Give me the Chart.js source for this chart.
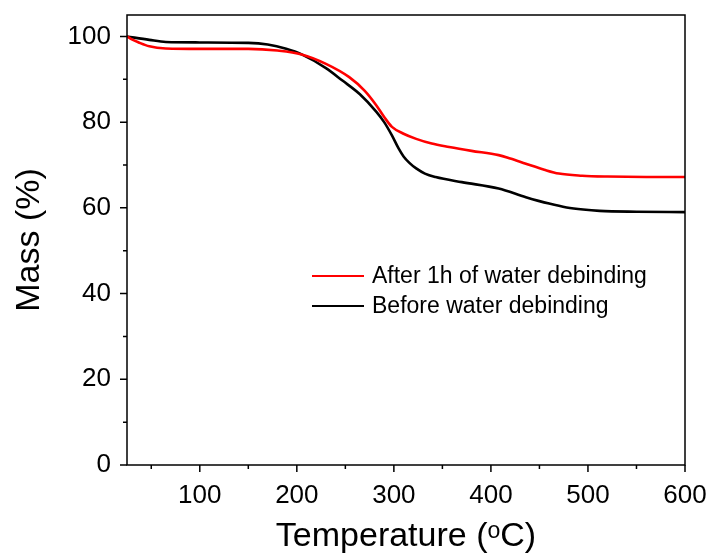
<!DOCTYPE html>
<html><head><meta charset="utf-8">
<script src="https://cdn.jsdelivr.net/npm/chart.js@4"></script>
<style>html,body{margin:0;padding:0;background:#fff}#w{width:712px;height:557px}</style>
</head><body><div id="w"><canvas id="c" width="712" height="557"></canvas></div>
<script>
const afterTemp = [25,30,37,48,65,100,150,180,205,230,254,270,282,290,298,310,323,339,357,380,408,420,436,455,470,494,520,560,600];
const afterMass = [100,99.3,98.6,97.7,97.2,97.1,97.1,96.7,95.8,93.6,90.5,87.3,83.9,81.2,78.9,77.3,76.1,75.0,74.2,73.3,72.3,71.5,70.3,68.9,68.0,67.5,67.3,67.2,67.2];
const beforeTemp = [25,48,65,100,150,170,189,205,230,247,265,282,290,298,305,310,316,323,332,343,370,408,436,460,478,495,512,550,600];
const beforeMass = [100,99.2,98.7,98.6,98.5,98.1,97.1,95.8,92.6,89.7,86.5,82.4,80.0,76.9,73.8,72.0,70.5,69.2,68.0,67.2,66.0,64.5,62.5,61.0,60.1,59.6,59.3,59.1,59.0];
const seriesNames = ['After 1h of water debinding','Before water debinding'];
const seriesColors = ['#ff0000','#000000'];
const xTicks = [100,200,300,400,500,600];
const xMinor = [50,150,250,350,450,550];
const yTicks = [0,20,40,60,80,100];
const yMinor = [10,30,50,70,90];

const toPts = (xs, ys) => xs.map((x,i)=>({x:x,y:ys[i]}));
const FONT = "'Liberation Sans', Arial, sans-serif";

const deco = {
  id:'deco',
  afterDraw(chart){
    const ctx = chart.ctx, a = chart.chartArea, xs = chart.scales.x, ys = chart.scales.y;
    ctx.save();
    ctx.strokeStyle = '#000'; ctx.lineWidth = 1.5;
    ctx.strokeRect(a.left, a.top, a.right-a.left, a.bottom-a.top);
    ctx.beginPath();
    xTicks.forEach(v=>{const p=xs.getPixelForValue(v); ctx.moveTo(p,a.bottom); ctx.lineTo(p,a.bottom+7);});
    xMinor.forEach(v=>{const p=xs.getPixelForValue(v); ctx.moveTo(p,a.bottom); ctx.lineTo(p,a.bottom+4);});
    yTicks.forEach(v=>{const p=ys.getPixelForValue(v); ctx.moveTo(a.left,p); ctx.lineTo(a.left-7,p);});
    yMinor.forEach(v=>{const p=ys.getPixelForValue(v); ctx.moveTo(a.left,p); ctx.lineTo(a.left-4,p);});
    ctx.stroke();
    // legend
    ctx.font = '23px ' + FONT; ctx.textBaseline = 'middle'; ctx.fillStyle = '#000';
    chart.data.datasets.forEach((d,i)=>{
      const y = 276 + i*30;
      ctx.strokeStyle = d.borderColor; ctx.lineWidth = 2;
      ctx.beginPath(); ctx.moveTo(312,y); ctx.lineTo(364,y); ctx.stroke();
      ctx.fillText(d.label, 372, y+1);
    });
    ctx.restore();
  }
};

new Chart(document.getElementById('c'), {
  type:'line',
  data:{datasets:[
    {label:seriesNames[0], data:toPts(afterTemp,afterMass), borderColor:seriesColors[0], borderWidth:2.6, pointRadius:0, cubicInterpolationMode:'monotone', fill:false},
    {label:seriesNames[1], data:toPts(beforeTemp,beforeMass), borderColor:seriesColors[1], borderWidth:2.6, pointRadius:0, cubicInterpolationMode:'monotone', fill:false}
  ]},
  options:{
    responsive:false, animation:false, devicePixelRatio:1,
    layout:{padding:{top:15,right:27,left:0,bottom:0}},
    plugins:{legend:{display:false}, tooltip:{enabled:false}},
    scales:{
      x:{type:'linear', min:25, max:600,
        afterBuildTicks:s=>{s.ticks = xTicks.map(v=>({value:v}));},
        afterFit:s=>{s.height = 92; s.paddingLeft = 0; s.paddingRight = 0;},
        grid:{display:false, drawTicks:false}, border:{display:false},
        ticks:{font:{family:FONT,size:26}, color:'#000', padding:15, maxRotation:0},
        title:{display:true, text:'Temperature (ᵒC)', font:{family:FONT,size:34}, color:'#000', padding:{top:0,bottom:0}}
      },
      y:{type:'linear', min:0, max:105,
        afterBuildTicks:s=>{s.ticks = yTicks.map(v=>({value:v}));},
        afterFit:s=>{s.width = 127; s.paddingTop = 0; s.paddingBottom = 0;},
        grid:{display:false, drawTicks:false}, border:{display:false},
        ticks:{font:{family:FONT,size:26}, color:'#000', padding:16},
        title:{display:true, text:'Mass (%)', font:{family:FONT,size:34}, color:'#000', padding:{top:9,bottom:0}}
      }
    }
  },
  plugins:[deco]
});
</script></body></html>
